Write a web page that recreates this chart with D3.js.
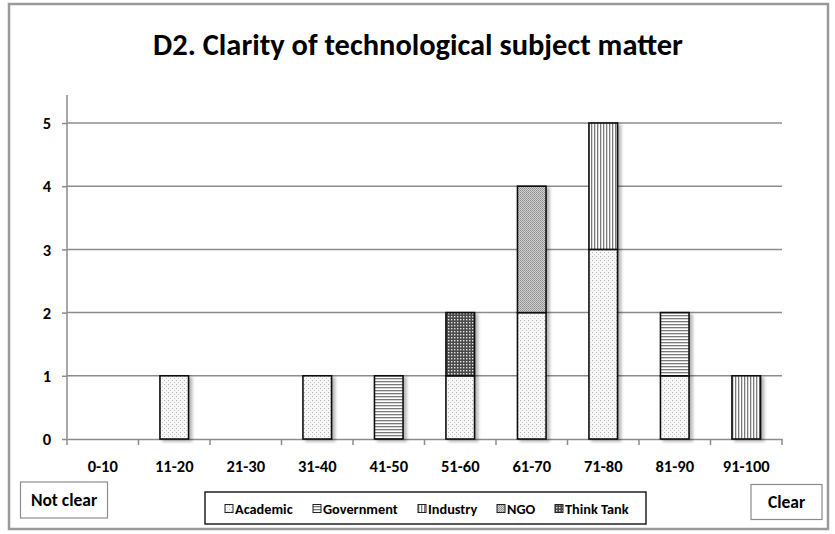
<!DOCTYPE html>
<html>
<head>
<meta charset="utf-8">
<script src="https://cdn.jsdelivr.net/npm/d3@7"></script>
<style>
  html, body { margin: 0; padding: 0; background: #fff; }
  svg { display: block; }
  text { font-family: Carlito, "Open Sans", "Noto Sans", sans-serif; font-weight: bold; fill: #000; }
</style>
</head>
<body>
<svg id="chart" width="835" height="534"></svg>
<script>
// ---------------- data ----------------
const categories = ["0-10", "11-20", "21-30", "31-40", "41-50", "51-60", "61-70", "71-80", "81-90", "91-100"];
const seriesNames = ["Academic", "Government", "Industry", "NGO", "Think Tank"];
const academic   = [0, 1, 0, 1, 0, 1, 2, 3, 1, 0];
const government = [0, 0, 0, 0, 1, 0, 0, 0, 1, 0];
const industry   = [0, 0, 0, 0, 0, 0, 0, 2, 0, 1];
const ngo        = [0, 0, 0, 0, 0, 0, 2, 0, 0, 0];
const thinkTank  = [0, 0, 0, 0, 0, 1, 0, 0, 0, 0];
const yTicks = [0, 1, 2, 3, 4, 5];
const titleText = "D2. Clarity of technological subject matter";
const leftNote = "Not clear";
const rightNote = "Clear";

const seriesValues = [academic, government, industry, ngo, thinkTank];
const table = categories.map((c, i) => {
  const row = { cat: c };
  seriesNames.forEach((s, k) => row[s] = seriesValues[k][i]);
  return row;
});

// ---------------- layout ----------------
const svg = d3.select("#chart");
const plot = { left: 67, right: 782, top: 95, bottom: 439 };

const defs = svg.append("defs");
const patId = ["pAcad", "pGov", "pInd", "pNgo", "pTt"];

// Academic: light dots
let p = defs.append("pattern").attr("id", "pAcad").attr("patternUnits", "userSpaceOnUse").attr("width", 4).attr("height", 4);
p.append("rect").attr("width", 4).attr("height", 4).attr("fill", "#f7f7f7");
p.append("rect").attr("x", 0).attr("y", 0).attr("width", 1).attr("height", 1).attr("fill", "#b4b4b4");
p.append("rect").attr("x", 2).attr("y", 2).attr("width", 1).attr("height", 1).attr("fill", "#c8c8c8");
// Government: horizontal lines
p = defs.append("pattern").attr("id", "pGov").attr("patternUnits", "userSpaceOnUse").attr("width", 4).attr("height", 3);
p.append("rect").attr("width", 4).attr("height", 3).attr("fill", "#fff");
p.append("rect").attr("y", 0).attr("width", 4).attr("height", 1.3).attr("fill", "#7a7a7a");
// Industry: vertical lines
p = defs.append("pattern").attr("id", "pInd").attr("patternUnits", "userSpaceOnUse").attr("width", 3).attr("height", 4);
p.append("rect").attr("width", 3).attr("height", 4).attr("fill", "#fff");
p.append("rect").attr("x", 0).attr("width", 1.3).attr("height", 4).attr("fill", "#7a7a7a");
// NGO: fine checker mid gray
p = defs.append("pattern").attr("id", "pNgo").attr("patternUnits", "userSpaceOnUse").attr("width", 2).attr("height", 2);
p.append("rect").attr("width", 2).attr("height", 2).attr("fill", "#cfcfcf");
p.append("rect").attr("x", 0).attr("y", 0).attr("width", 1).attr("height", 1).attr("fill", "#8f8f8f");
p.append("rect").attr("x", 1).attr("y", 1).attr("width", 1).attr("height", 1).attr("fill", "#9f9f9f");
// Think Tank: dark grid
p = defs.append("pattern").attr("id", "pTt").attr("patternUnits", "userSpaceOnUse").attr("width", 3).attr("height", 3);
p.append("rect").attr("width", 3).attr("height", 3).attr("fill", "#4a4a4a");
p.append("rect").attr("x", 1).attr("y", 1).attr("width", 1.4).attr("height", 1.4).attr("fill", "#e6e6e6");

const shadow = defs.append("filter").attr("id", "shadow").attr("x", "-20%").attr("y", "-20%").attr("width", "160%").attr("height", "160%");
shadow.append("feDropShadow").attr("dx", 3).attr("dy", 2).attr("stdDeviation", 1.6).attr("flood-color", "#000").attr("flood-opacity", 0.28);

// outer frame
svg.append("rect").attr("x", 9).attr("y", 4).attr("width", 819).attr("height", 525)
  .attr("fill", "#fff").attr("stroke", "#9a9a9a").attr("stroke-width", 2.5);

// title (sized to span ~530px, centred on the frame)
const title = svg.append("text").attr("x", 418).attr("y", 55).attr("text-anchor", "middle")
  .attr("font-size", 27).text(titleText);
const tw = title.node().getComputedTextLength();
if (tw > 0) title.attr("font-size", 27 * 530 / tw);

// scales
const x = d3.scaleBand().domain(categories).range([plot.left, plot.right]).paddingInner(0).paddingOuter(0);
const y = d3.scaleLinear().domain([0, 5]).range([plot.bottom, 123]);
const barW = x.bandwidth() * 0.4;

// gridlines
svg.append("g").selectAll("line").data(yTicks.filter(t => t > 0)).join("line")
  .attr("x1", plot.left).attr("x2", plot.right)
  .attr("y1", d => y(d)).attr("y2", d => y(d))
  .attr("stroke", "#8c8c8c").attr("stroke-width", 1.5);

// y axis
const yAxis = svg.append("g").attr("transform", `translate(${plot.left},0)`)
  .call(d3.axisLeft(y).tickValues(yTicks).tickSize(5).tickPadding(11).tickFormat(d3.format("d")));
yAxis.select(".domain").remove();
yAxis.selectAll(".tick line").attr("stroke", "#8c8c8c").attr("stroke-width", 1.5);
yAxis.selectAll(".tick text").attr("font-size", 16.5).attr("font-family", null).attr("dy", "0.34em");
svg.append("line").attr("x1", plot.left).attr("x2", plot.left).attr("y1", plot.top).attr("y2", plot.bottom)
  .attr("stroke", "#8c8c8c").attr("stroke-width", 1.5);

// x axis
const xAxis = svg.append("g").attr("transform", `translate(0,${plot.bottom})`)
  .call(d3.axisBottom(x).tickSize(0).tickPadding(21));
xAxis.select(".domain").attr("stroke", "#8c8c8c").attr("stroke-width", 1.5);
xAxis.selectAll(".tick text").attr("font-size", 16.5).attr("font-family", null);
// category boundary ticks
const bounds = categories.map(c => x(c)).concat([x(categories[categories.length - 1]) + x.bandwidth()]);
svg.append("g").selectAll("line").data(bounds).join("line")
  .attr("x1", d => d).attr("x2", d => d).attr("y1", plot.bottom).attr("y2", plot.bottom + 6)
  .attr("stroke", "#8c8c8c").attr("stroke-width", 1.5);

// stacked bars
const stack = d3.stack().keys(seriesNames)(table);
const barsG = svg.append("g").attr("filter", "url(#shadow)");
stack.forEach((layer, k) => {
  barsG.append("g").selectAll("rect")
    .data(layer.filter(d => (d.data.Academic + d.data.Government + d.data.Industry + d.data.NGO + d.data["Think Tank"]) > 0))
    .join("rect")
    .attr("x", d => x(d.data.cat) + (x.bandwidth() - barW) / 2)
    .attr("width", barW)
    .attr("y", d => y(d[1]))
    .attr("height", d => y(d[0]) - y(d[1]))
    .attr("fill", `url(#${patId[k]})`)
    .attr("stroke", "#111").attr("stroke-width", 1.6);
});

// side notes
function noteBox(cx, cy, w, h, label) {
  svg.append("rect").attr("x", cx - w / 2).attr("y", cy - h / 2).attr("width", w).attr("height", h)
    .attr("fill", "#fff").attr("stroke", "#8c8c8c").attr("stroke-width", 1.2);
  svg.append("text").attr("x", cx).attr("y", cy).attr("dy", "0.36em").attr("text-anchor", "middle")
    .attr("font-size", 17.5).text(label);
}
noteBox(64, 500, 87, 36, leftNote);
noteBox(786.5, 502, 71, 35, rightNote);

// legend
const legend = svg.append("g");
legend.append("rect").attr("x", 205).attr("y", 492).attr("width", 441).attr("height", 32)
  .attr("fill", "#fff").attr("stroke", "#222").attr("stroke-width", 1.5);
const legX = [225, 313, 418, 497, 555];
const legItems = legend.selectAll("g.item").data(seriesNames).join("g").attr("class", "item")
  .attr("transform", (d, i) => `translate(${legX[i]},509)`);
legItems.append("rect").attr("x", 0).attr("y", -4.5).attr("width", 8).attr("height", 8)
  .attr("fill", (d, i) => `url(#${patId[i]})`).attr("stroke", "#222").attr("stroke-width", 1);
legItems.append("text").attr("x", 10).attr("y", 0).attr("dy", "0.35em").attr("font-size", 14.3).text(d => d);
</script>
</body>
</html>
